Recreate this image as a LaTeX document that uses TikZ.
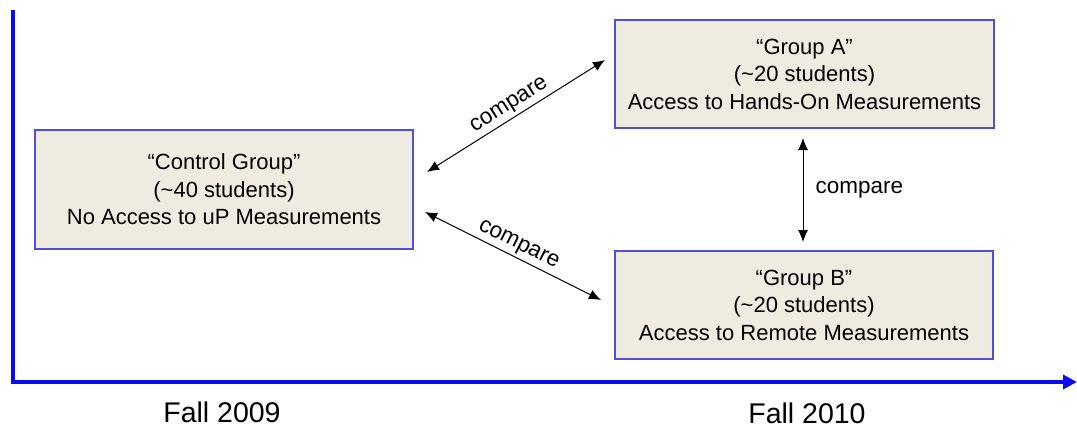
\documentclass[tikz,border=0pt]{standalone}
\usepackage{fontspec}
\setmainfont{Liberation Sans}
\usetikzlibrary{arrows.meta}
\definecolor{boxfill}{RGB}{238,236,225}
\definecolor{boxline}{RGB}{80,80,215}
\definecolor{axisblue}{RGB}{10,10,240}
\begin{document}
\begin{tikzpicture}[x=1pt,y=-1pt,
  grp/.style={draw=boxline,fill=boxfill,line width=1.3pt,align=center,font=\fontsize{22}{27.5}\selectfont,inner sep=0pt},
  cmp/.style={black,line width=1pt,{Latex[length=12pt,width=10pt]}-{Latex[length=12pt,width=10pt]}},
  lbl/.style={font=\fontsize{22.5}{26}\selectfont,inner sep=2pt},
  fall/.style={font=\fontsize{28.5}{32}\selectfont}]
\useasboundingbox (0,0) rectangle (1077,428);
\draw[axisblue,line width=3.5pt] (13,10) -- (13,382);
\draw[axisblue,line width=3.5pt,-{Triangle[length=14pt,width=14pt]}] (11.25,382) -- (1077,382);
\node[grp,minimum width=378pt,minimum height=119pt] (ctrl) at (224,189.5) {``Control Group''\\(\textasciitilde40 students)\\No Access to uP Measurements};
\node[grp,minimum width=379pt,minimum height=108pt] (ga) at (804.5,74) {``Group A''\\(\textasciitilde20 students)\\Access to Hands-On Measurements};
\node[grp,minimum width=378pt,minimum height=108pt] (gb) at (804,305) {``Group B''\\(\textasciitilde20 students)\\Access to Remote Measurements};
\coordinate (c1) at (427,172);
\coordinate (a1) at (605,60);
\coordinate (c2) at (425,212);
\coordinate (b1) at (601,300);
\coordinate (a2) at (803,138);
\coordinate (b2) at (803,242);
\draw[cmp] (c1) -- node[lbl,sloped,above=1pt] (l1) {compare} (a1);
\draw[cmp] (c2) -- node[lbl,sloped,above=1pt] (l2) {compare} (b1);
\draw[cmp] (a2) -- node[lbl,right=10pt] (l3) {compare} (b2);
\node[fall] (f1) at (222,412) {Fall 2009};
\node[fall] (f2) at (807,413) {Fall 2010};
\end{tikzpicture}
\end{document}
